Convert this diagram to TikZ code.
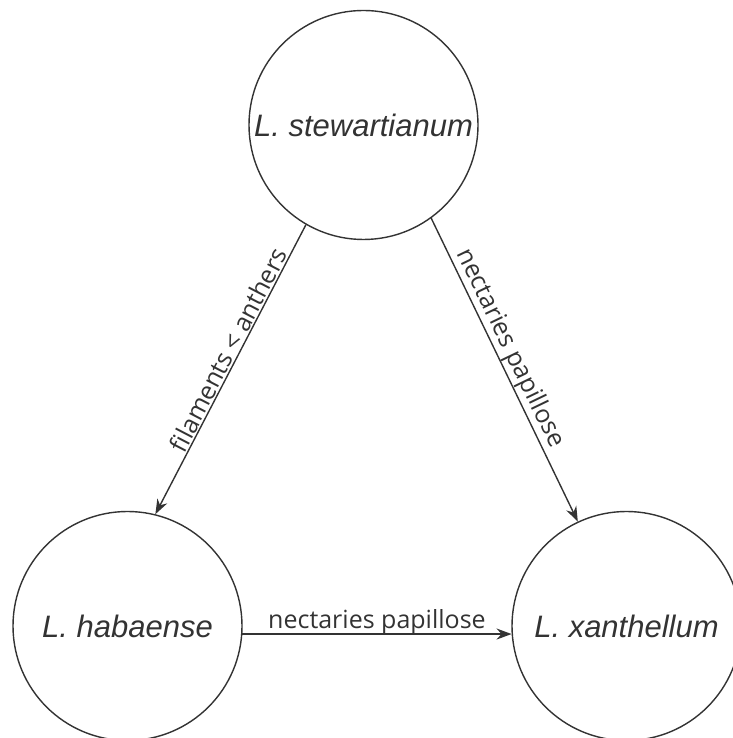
\documentclass[tikz,border=0pt]{standalone}
\usepackage{fontspec}
\setmainfont{Liberation Sans}
\newfontfamily\edgefont{Open Sans}
\usepackage{tikz}
\usetikzlibrary{
	automata,
	positioning,
	arrows.meta
}
\definecolor{inkgray}{HTML}{333333}

\begin{document}
\begin{tikzpicture}[
		x=1pt, y=1pt,
		every state/.style={draw=inkgray, line width=1.4pt, minimum size=229pt, inner sep=0pt,
			text=inkgray, font=\fontsize{31}{36}\selectfont\itshape},
		every edge/.style={draw=inkgray, line width=1.4pt, -{Stealth[length=15pt,width=11pt]}},
		edgelabel/.style={inner sep=0pt, text=inkgray, font=\edgefont\fontsize{25}{29}\selectfont}
	]
		\useasboundingbox (0,0) rectangle (732,738);
		\draw
			node[state] at (363.5,613) (stew) {L. stewartianum}
			node[state] at (127.5,112) (haba) {L. habaense}
			node[state] at (626.5,112) (xant) {L. xanthellum}

			(stew.240) edge node[edgelabel,sloped,above=1pt,pos=0.45]  {filaments < anthers} (haba.76)
			(stew.306) edge node[edgelabel,sloped,above=1pt,pos=0.45]  {nectaries papillose} (xant.115)
			(haba.-4)  edge node[edgelabel,above=-1.5pt]               {nectaries papillose} (xant.184)
		;
	\end{tikzpicture}
\end{document}
